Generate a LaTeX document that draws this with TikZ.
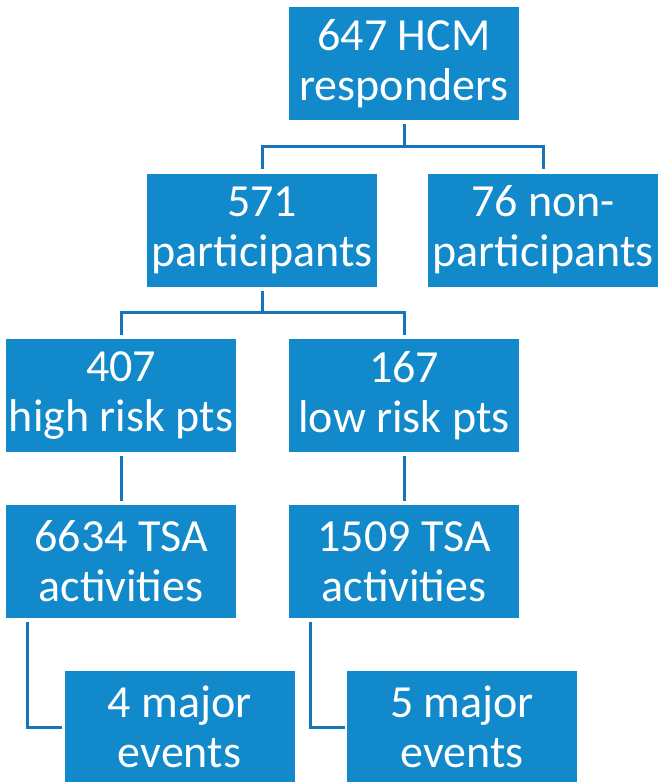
\documentclass[tikz,border=0pt]{standalone}
\usepackage{fontspec}
\setmainfont{Carlito}
\definecolor{boxblue}{RGB}{17,137,202}
\definecolor{lineblue}{RGB}{22,117,186}
\begin{document}
\begin{tikzpicture}[x=0.5pt, y=-0.5pt,
        box/.style={fill=boxblue, text=white, minimum width=115pt, minimum height=56.5pt,
            inner sep=0pt, align=center, font=\fontsize{23}{25}\selectfont},
        link/.style={draw=lineblue, line width=1.5pt}]
    \useasboundingbox (0,0) rectangle (659,782);

    \node[box] (resp) at (404, 63.5) {647 HCM\\responders};
    \node[box] (part) at (262, 230) {571\\participants};
    \node[box] (nonpart) at (543, 230) {76 non-\\participants};
    \node[box] (high) at (121, 395.5) {407\\high risk pts};
    \node[box] (low) at (404, 395.5) {167\\low risk pts};
    \node[box] (tsahigh) at (121, 561.5) {6634 TSA\\activities};
    \node[box] (tsalow) at (404, 561.5) {1509 TSA\\activities};
    \node[box] (evhigh) at (179.5, 727) {4 major\\events};
    \node[box] (evlow) at (462, 727) {5 major\\events};

    \draw[link] ([yshift=-2pt]resp.south) -- ++(0,22) coordinate (top);
    \draw[link] (top) -| ([yshift=2pt]part.north);
    \draw[link] (top) -| ([yshift=2pt]nonpart.north);

    \draw[link] ([yshift=-2pt]part.south) -- ++(0,22) coordinate (mid);
    \draw[link] (mid) -| ([yshift=2pt]high.north);
    \draw[link] (mid) -| ([yshift=2pt]low.north);

    \draw[link] ([yshift=-2pt]high.south) -- ([yshift=2pt]tsahigh.north);
    \draw[link] ([yshift=-2pt]low.south) -- ([yshift=2pt]tsalow.north);

    \draw[link] ([xshift=11pt, yshift=-2pt]tsahigh.south west) |- ([xshift=-1pt]evhigh.west);
    \draw[link] ([xshift=11pt, yshift=-2pt]tsalow.south west) |- ([xshift=-1pt]evlow.west);
\end{tikzpicture}
\end{document}
